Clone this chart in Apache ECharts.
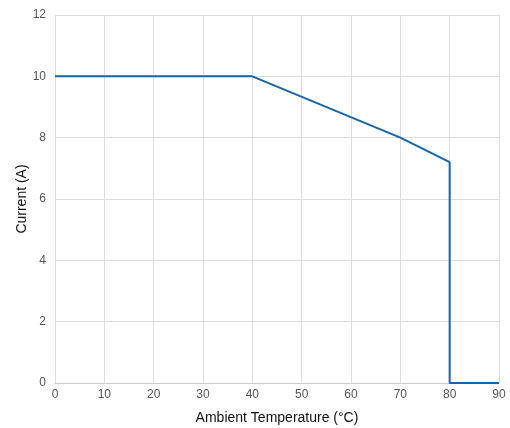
<!DOCTYPE html>
<html><head><meta charset="utf-8">
<script src="https://cdn.jsdelivr.net/npm/echarts@6/dist/echarts.min.js"></script>
<style>html,body{margin:0;padding:0;background:#fff}#c{width:510px;height:428px}</style>
</head><body><div id="c"></div>
<script>
const temps = [0, 40, 70, 80, 80, 90];
const currents = [10, 10, 8, 7.2, 0, 0];
const chart = echarts.init(document.getElementById('c'));
chart.setOption({
  animation: false,
  grid: {left: 55, right: 11, top: 15, bottom: 45, containLabel: false, outerBoundsMode: 'none'},
  xAxis: {
    type: 'value', min: 0, max: 90, interval: 10,
    name: 'Ambient Temperature (°C)', nameLocation: 'middle', nameGap: 28, nameMoveOverlap: false,
    nameTextStyle: {color: '#111', fontSize: 14, fontFamily: 'Arial'},
    axisLine: {show: true, lineStyle: {color: '#ccc'}},
    axisTick: {show: false},
    axisLabel: {color: '#555', fontSize: 12, fontFamily: 'Arial', margin: 6},
    splitLine: {show: true, lineStyle: {color: '#ddd'}}
  },
  yAxis: {
    type: 'value', min: 0, max: 12, interval: 2,
    name: 'Current (A)', nameLocation: 'middle', nameGap: 26, nameMoveOverlap: false,
    nameTextStyle: {color: '#111', fontSize: 14, fontFamily: 'Arial'},
    axisLine: {show: false},
    axisTick: {show: false},
    axisLabel: {color: '#555', fontSize: 12, fontFamily: 'Arial', margin: 9},
    splitLine: {show: true, lineStyle: {color: '#ddd'}}
  },
  series: [{
    type: 'line',
    data: temps.map((t, i) => [t, currents[i]]),
    showSymbol: false, symbol: 'none',
    lineStyle: {color: '#1565a8', width: 2},
    itemStyle: {color: '#1565a8'}
  }]
});
</script></body></html>
